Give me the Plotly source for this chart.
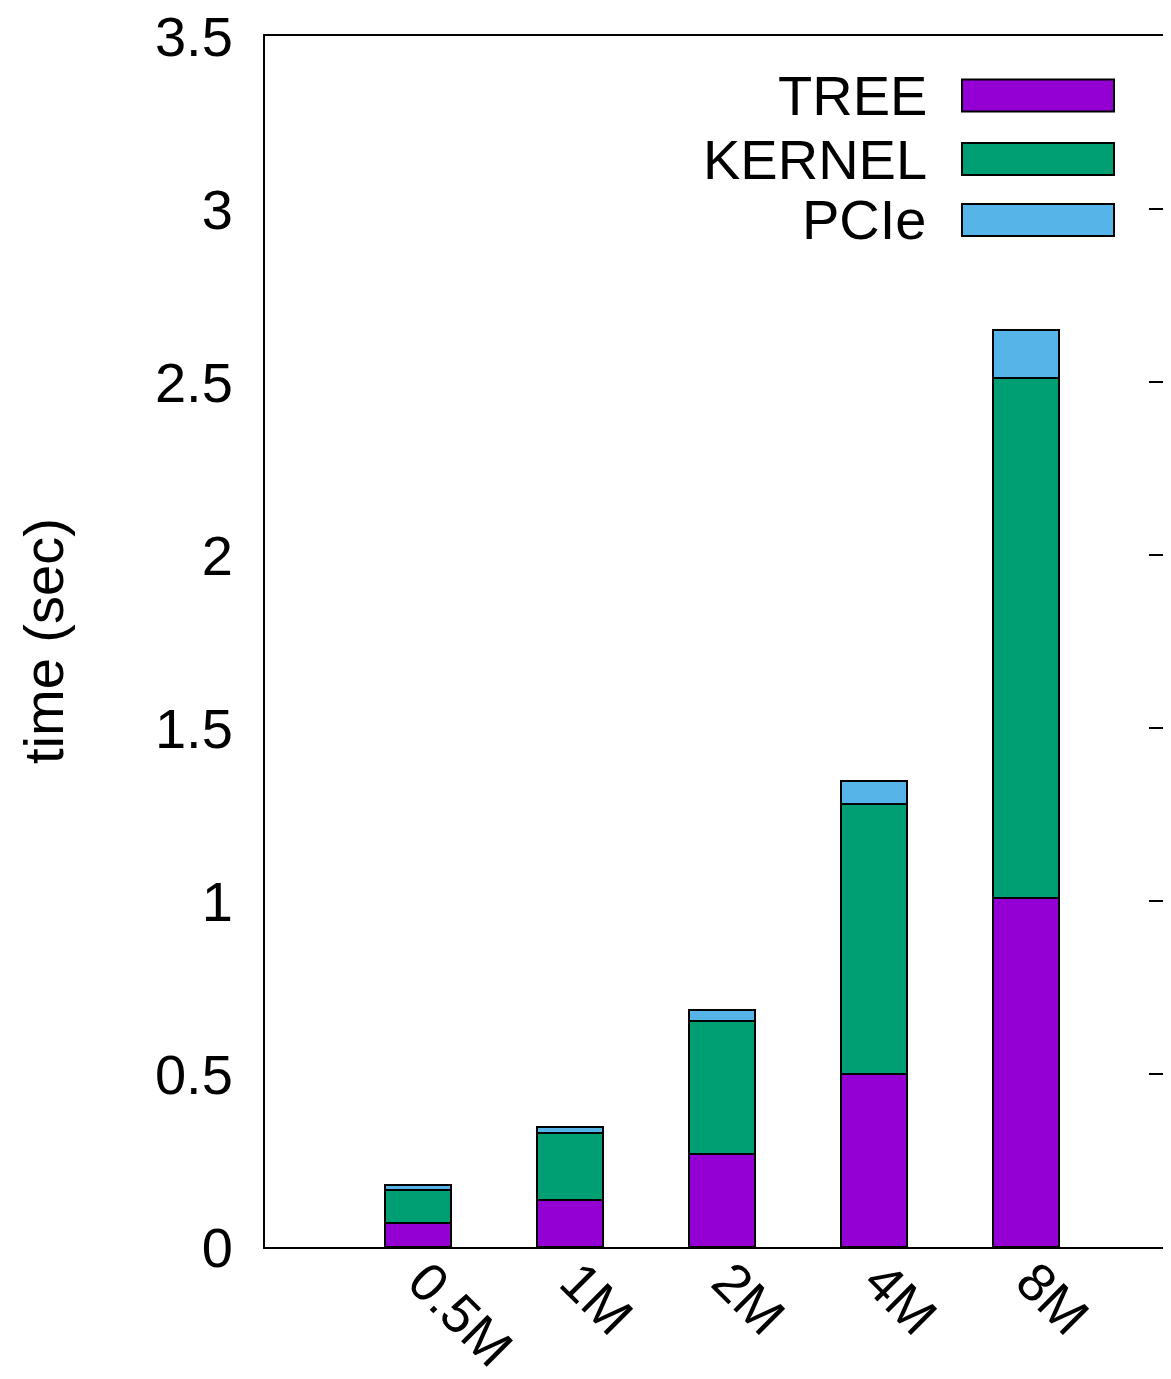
import plotly.graph_objects as go

categories = ["0.5M", "1M", "2M", "4M", "8M"]
series_names = ["TREE", "KERNEL", "PCIe"]
tree = [0.069, 0.136, 0.269, 0.500, 1.008]
kernel = [0.097, 0.193, 0.384, 0.779, 1.503]
pcie = [0.012, 0.018, 0.032, 0.069, 0.139]
colors = ["#9400D3", "#009E73", "#56B4E9"]
y_ticks = [0, 0.5, 1, 1.5, 2, 2.5, 3, 3.5]

OFF = 8  # default page body margin
W, H = 1171 - 2 * OFF, 1379 - 2 * OFF
L = 265 - OFF
T = 36 - OFF
B = H - (1247 - OFF)
R = 0
FONT = "Liberation Sans, Arial, sans-serif"
FS = 56

fig = go.Figure()
for name, vals, col in zip(series_names, [tree, kernel, pcie], colors):
    fig.add_trace(go.Bar(
        x=categories, y=vals, name=name, width=0.43,
        marker=dict(color=col, line=dict(color="black", width=2)),
        showlegend=False,
    ))

# invisible trace so the right-side tick axis is drawn
fig.add_trace(go.Scatter(x=[categories[0]], y=[0], mode="none", yaxis="y2",
                         showlegend=False, hoverinfo="skip"))

pw = W - L - R
ph = H - T - B

def px_x(p):
    return (p - OFF - L) / pw

def px_y(p):
    return (H - B - (p - OFF)) / ph

# manual legend (gnuplot style)
rows_y = [95.5, 159, 220]
for name, col, yc in zip(series_names, colors, rows_y):
    fig.add_shape(type="rect", xref="paper", yref="paper",
                  x0=px_x(962), x1=px_x(1114),
                  y0=px_y(yc + 16), y1=px_y(yc - 16),
                  fillcolor=col, line=dict(color="black", width=2))
    fig.add_annotation(xref="paper", yref="paper", x=px_x(929), y=px_y(yc),
                       text=name, showarrow=False, xanchor="right", yanchor="middle",
                       font=dict(family=FONT, size=FS, color="black"))

fig.add_annotation(xref="paper", yref="paper", x=px_x(43), y=px_y(641),
                   text="time (sec)", textangle=-90, showarrow=False,
                   xanchor="center", yanchor="middle",
                   font=dict(family=FONT, size=FS, color="black"))

x0_px = 418 - OFF - L   # centre of first bar inside plot area
unit = 152.0
fig.update_layout(
    width=W, height=H,
    margin=dict(l=L, r=R, t=T, b=B, pad=0, autoexpand=False),
    plot_bgcolor="white", paper_bgcolor="white",
    barmode="stack",
    font=dict(family=FONT, size=FS, color="black"),
    xaxis=dict(
        type="category", categoryorder="array", categoryarray=categories,
        range=[-x0_px / unit, (pw - x0_px) / unit],
        showline=True, linecolor="black", linewidth=2, mirror=True,
        ticks="", showgrid=False, zeroline=False, automargin=False,
        tickangle=45, tickfont=dict(family=FONT, size=54, color="black"),
        ticklabelstandoff=-21, ticklabelshift=6, ticklabeloverflow="allow",
    ),
    yaxis=dict(
        range=[0, 3.5], tickvals=y_ticks,
        showline=True, linecolor="black", linewidth=2, mirror=False,
        ticks="", showgrid=False, zeroline=False, automargin=False,
        tickfont=dict(family=FONT, size=FS, color="black"),
        ticklabelstandoff=19, ticklabeloverflow="allow",
    ),
    yaxis2=dict(
        overlaying="y", side="right", anchor="x",
        range=[0, 3.5], tickvals=y_ticks, automargin=False,
        showline=False, showgrid=False, zeroline=False,
        ticks="inside", ticklen=14, tickwidth=2, tickcolor="black",
        showticklabels=False,
    ),
)

fig.write_html("out.html")
